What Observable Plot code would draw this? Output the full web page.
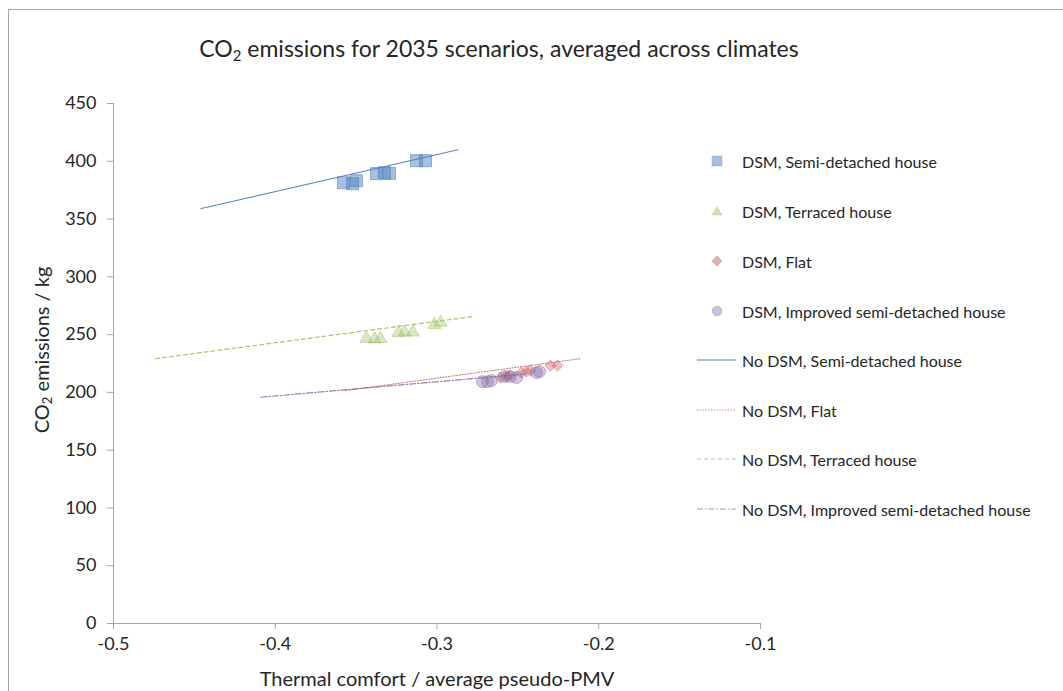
<!DOCTYPE html>
<html>
<head>
<meta charset="utf-8">
<script src="https://cdn.jsdelivr.net/npm/d3@7"></script>
<script src="https://cdn.jsdelivr.net/npm/@observablehq/plot@0.6"></script>
<style>
  html, body { margin: 0; padding: 0; background: #fff; }
  #wrap { position: relative; width: 1063px; height: 691px; overflow: hidden; font-family: Lato, "Open Sans", sans-serif; color: #262626; }
  #frame { position: absolute; left: 8px; top: 9px; width: 1060px; height: 690px; border: 1px solid #a6a6a6; box-sizing: border-box; }
  #chart { position: absolute; left: 0; top: 0; }
  #title { position: absolute; left: 0; width: 998px; top: 34px; text-align: center; font-size: 23px; }
  #xlabel { position: absolute; left: 0; width: 874px; top: 666px; text-align: center; font-size: 20px; }
  #ylabel { position: absolute; left: 41px; top: 350px; transform: translate(-50%, -50%) rotate(-90deg); white-space: nowrap; font-size: 20px; }
  sub { font-size: 0.65em; vertical-align: -0.25em; line-height: 0; }
  .leg { position: absolute; left: 690px; height: 20px; font-size: 16px; display: flex; align-items: center; white-space: nowrap; }
  .leg svg { width: 48px; height: 20px; flex: none; margin-right: 4px; }
</style>
</head>
<body>
<div id="wrap">
  <div id="frame"></div>
  <div id="chart"></div>
  <div id="title">CO<sub>2</sub> emissions for 2035 scenarios, averaged across climates</div>
  <div id="ylabel">CO<sub>2</sub> emissions / kg</div>
  <div id="xlabel">Thermal comfort / average pseudo-PMV</div>
  <div id="legend"></div>
</div>
<script>
// ---- Data ----
const semiX = [-0.3578, -0.3522, -0.3498, -0.3374, -0.3325, -0.3294, -0.3127, -0.3071];
const semiY = [381.5, 380.6, 383.2, 389.3, 390.1, 389.5, 400.5, 400.5];

const terrX = [-0.3436, -0.3386, -0.3350, -0.3238, -0.3200, -0.3150, -0.3016, -0.2978];
const terrY = [246.5, 246.0, 246.5, 251.7, 252.0, 252.0, 258.6, 260.4];

const flatX = [-0.2607, -0.2576, -0.2552, -0.2478, -0.2447, -0.2422, -0.2298, -0.2255];
const flatY = [212.8, 213.7, 214.5, 217.1, 218.0, 218.9, 223.2, 223.2];

const imprX = [-0.2719, -0.2688, -0.2663, -0.2583, -0.2546, -0.2508, -0.2385, -0.2366];
const imprY = [209.3, 209.3, 210.2, 213.7, 213.7, 212.8, 217.1, 218.0];

// No DSM trend lines (endpoints)
const noSemiX = [-0.446, -0.287], noSemiY = [359, 410];
const noFlatX = [-0.3566, -0.2113], noFlatY = [201.6, 229.2];
const noTerrX = [-0.474, -0.278], noTerrY = [229.2, 265.6];
const noImprX = [-0.409, -0.245], noImprY = [195.8, 216.0];

const xTicks = [-0.5, -0.4, -0.3, -0.2, -0.1];
const yTicks = [0, 50, 100, 150, 200, 250, 300, 350, 400, 450];

const legendLabels = [
  "DSM, Semi-detached house",
  "DSM, Terraced house",
  "DSM, Flat",
  "DSM, Improved semi-detached house",
  "No DSM, Semi-detached house",
  "No DSM, Flat",
  "No DSM, Terraced house",
  "No DSM, Improved semi-detached house"
];

// ---- Styles ----
const BLUE = "#4f81bd", GREEN = "#9bbb59", RED = "#c0504d", PURPLE = "#8064a2";
const AXIS = "#a6a6a6", INK = "#262626";

const zip = (xs, ys) => xs.map((x, i) => ({x, y: ys[i]}));

const dotOpts = (color, symbol, r, fo, so) => ({
  x: "x", y: "y", symbol, r, fill: color, fillOpacity: fo, stroke: color, strokeOpacity: so, strokeWidth: 1
});

const chart = Plot.plot({
  width: 1063,
  height: 691,
  marginLeft: 113,
  marginRight: 303,
  marginTop: 103,
  marginBottom: 68,
  style: { fontFamily: "Lato, 'Open Sans', sans-serif", fontSize: "18px", color: INK, background: "transparent", overflow: "visible" },
  x: { domain: [-0.5, -0.1], label: null, axis: null },
  y: { domain: [0, 450], label: null, axis: null },
  marks: [
    // axis lines
    Plot.ruleX([-0.5], { y1: 0, y2: 450, stroke: AXIS }),
    Plot.ruleY([0], { x1: -0.5, x2: -0.1, stroke: AXIS }),
    // tick marks (6px, outside)
    Plot.ruleX(xTicks, { x: d => d, insetTop: 514, dy: 6, stroke: AXIS }),
    Plot.ruleY(yTicks, { y: d => d, insetRight: 641, dx: -6, stroke: AXIS }),
    // tick labels
    Plot.text(xTicks, { x: d => d, frameAnchor: "bottom", dy: 26, text: d => String(d), fontSize: 18, fill: INK }),
    Plot.text(yTicks, { y: d => d, frameAnchor: "left", dx: -17, textAnchor: "end", text: d => String(d), fontSize: 18, fill: INK }),
    // DSM points
    Plot.dot(zip(semiX, semiY), dotOpts(BLUE, "square", 6.8, 0.5, 0.55)),
    Plot.dot(zip(terrX, terrY), dotOpts(GREEN, "triangle", 4.8, 0.35, 0.45)),
    Plot.dot(zip(flatX, flatY), dotOpts(RED, "diamond2", 5, 0.35, 0.4)),
    Plot.dot(zip(imprX, imprY), dotOpts(PURPLE, "circle", 6, 0.35, 0.45)),
    // No DSM lines
    Plot.line(zip(noSemiX, noSemiY), { x: "x", y: "y", stroke: BLUE, strokeWidth: 1 }),
    Plot.line(zip(noTerrX, noTerrY), { x: "x", y: "y", stroke: GREEN, strokeWidth: 1.2, strokeDasharray: "4,3", strokeOpacity: 0.85 }),
    Plot.line(zip(noImprX, noImprY), { x: "x", y: "y", stroke: PURPLE, strokeWidth: 1.2, strokeDasharray: "6,2,1.5,2", strokeOpacity: 0.8 }),
    Plot.line(zip(noFlatX, noFlatY), { x: "x", y: "y", stroke: RED, strokeWidth: 1, strokeDasharray: "1.2,1.6", strokeOpacity: 0.8 })
  ]
});
document.getElementById("chart").appendChild(chart);

// ---- Legend ----
const legendIcons = [
  `<rect x="22" y="5" width="10" height="10" fill="${BLUE}" fill-opacity="0.5" stroke="${BLUE}" stroke-opacity="0.3"/>`,
  `<path d="M27,5.5 L32,14 L22,14 Z" fill="${GREEN}" fill-opacity="0.45" stroke="${GREEN}" stroke-opacity="0.3"/>`,
  `<path d="M27,5 L32,10 L27,15 L22,10 Z" fill="${RED}" fill-opacity="0.45" stroke="${RED}" stroke-opacity="0.3"/>`,
  `<circle cx="27" cy="10" r="4.8" fill="${PURPLE}" fill-opacity="0.4" stroke="${PURPLE}" stroke-opacity="0.3"/>`,
  `<line x1="7" x2="46" y1="10" y2="10" stroke="${BLUE}" stroke-width="1"/>`,
  `<line x1="7" x2="46" y1="10" y2="10" stroke="${RED}" stroke-opacity="0.8" stroke-width="1" stroke-dasharray="1.2,1.6"/>`,
  `<line x1="7" x2="46" y1="10" y2="10" stroke="${GREEN}" stroke-opacity="0.7" stroke-width="1.2" stroke-dasharray="4,3"/>`,
  `<line x1="7" x2="46" y1="10" y2="10" stroke="${PURPLE}" stroke-opacity="0.7" stroke-width="1.2" stroke-dasharray="6,2,1.5,2"/>`
];
const legendY = [161, 211, 261, 311, 360, 410, 459, 509];
const leg = document.getElementById("legend");
legendLabels.forEach((lab, i) => {
  const d = document.createElement("div");
  d.className = "leg";
  d.style.top = (legendY[i] - 10) + "px";
  d.innerHTML = `<svg viewBox="0 0 48 20">${legendIcons[i]}</svg><span>${lab}</span>`;
  leg.appendChild(d);
});
</script>
</body>
</html>
